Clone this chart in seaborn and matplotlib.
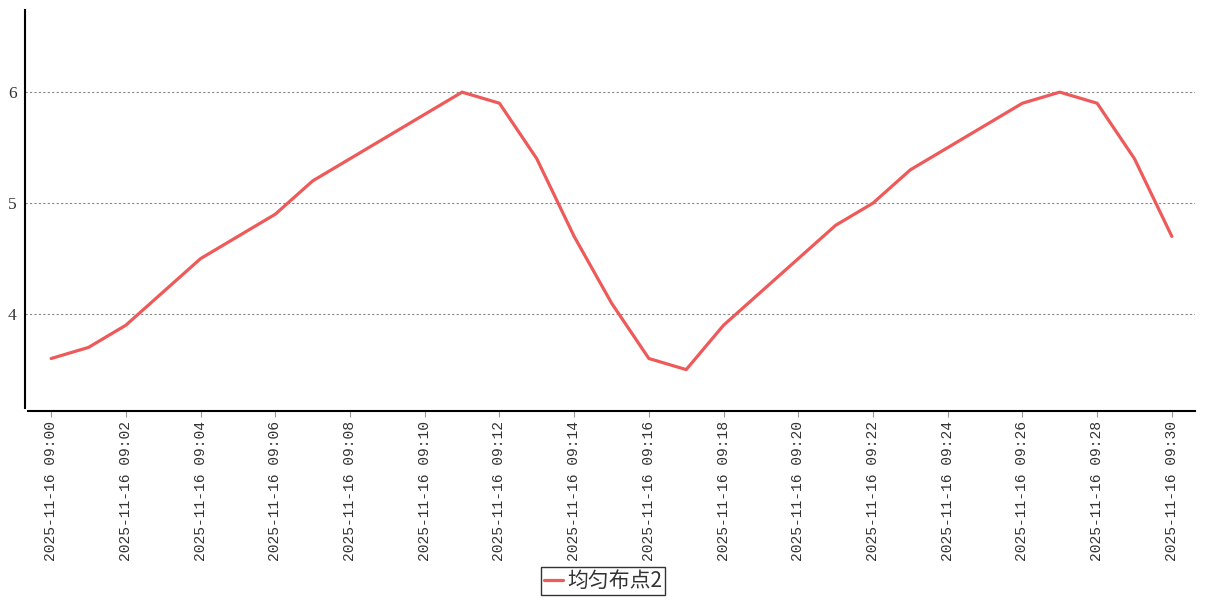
import pandas as pd
import numpy as np
import matplotlib
matplotlib.use("Agg")
import matplotlib.pyplot as plt
import matplotlib.dates as mdates
import seaborn as sns

# data
times = pd.date_range("2025-11-16 09:00", "2025-11-16 09:30", freq="1min")
values = [3.6, 3.7, 3.9, 4.2, 4.5, 4.7, 4.9, 5.2, 5.4, 5.6, 5.8, 6.0, 5.9, 5.4, 4.7, 4.1,
          3.6, 3.5, 3.9, 4.2, 4.5, 4.8, 5.0, 5.3, 5.5, 5.7, 5.9, 6.0, 5.9, 5.4, 4.7]
series_name = "均匀布点2"
line_color = "#ee5a5a"

df = pd.DataFrame({"time": times, "value": values, "series": series_name})

sns.set_style("white")
plt.rcParams["font.family"] = ["Noto Sans CJK SC", "DejaVu Sans"]

fig = plt.figure(figsize=(12.07, 6.0), dpi=100)
ax = fig.add_axes([25 / 1207, 1 - 411 / 600, 1170 / 1207, 401 / 600])

sns.lineplot(data=df, x="time", y="value", hue="series", palette=[line_color],
             linewidth=2.3, ax=ax, legend=True)

# axes limits
step = pd.Timedelta(minutes=1)
x_left = times[0] - 0.7 * step
x_right = times[-1] + 0.62 * step
ax.set_xlim(x_left, x_right)
ax.set_ylim(3.127, 6.74)

# ticks
ax.xaxis.set_major_locator(mdates.MinuteLocator(byminute=range(0, 60, 2)))
ax.xaxis.set_major_formatter(mdates.DateFormatter("%Y-%m-%d %H:%M"))
ax.set_yticks([4, 5, 6])
ax.set_yticklabels(["4", "5", "6"])
for lbl in ax.get_xticklabels():
    lbl.set_rotation(90)
    lbl.set_family("Liberation Mono")
    lbl.set_fontsize(10.5)
    lbl.set_color("#333333")
for lbl in ax.get_yticklabels():
    lbl.set_family("Liberation Serif")
    lbl.set_fontsize(12.5)
    lbl.set_color("#333333")
ax.tick_params(axis="x", length=4, width=0.8, color="#999999", pad=3, bottom=True)
ax.tick_params(axis="y", length=0, pad=6)

# grid
ax.grid(axis="y", linestyle=(0, (2, 2)), color="#888888", linewidth=0.8)
ax.grid(axis="x", visible=False)

# spines
sns.despine(ax=ax, top=True, right=True)
ax.spines["left"].set_color("black")
ax.spines["left"].set_linewidth(1.5)
ax.spines["left"].set_bounds(3.155, 6.74)
ax.spines["bottom"].set_color("black")
ax.spines["bottom"].set_linewidth(1.5)
ax.spines["bottom"].set_bounds(mdates.date2num(times[0] - 0.62 * step), mdates.date2num(x_right))
ax.set_xlabel("")
ax.set_ylabel("")

# legend below the axis
handles, labels = ax.get_legend_handles_labels()
leg = ax.legend(handles, labels, loc="center", bbox_to_anchor=(603 / 1207, 1 - 581 / 600),
                bbox_transform=fig.transFigure, frameon=True, fancybox=False,
                edgecolor="black", fontsize=15, handlelength=0.9, handletextpad=0.2,
                borderpad=0.15, borderaxespad=0)
leg.get_frame().set_linewidth(1.0)
for t in leg.get_texts():
    t.set_color("#333333")

fig.savefig("out.png", dpi=100)
